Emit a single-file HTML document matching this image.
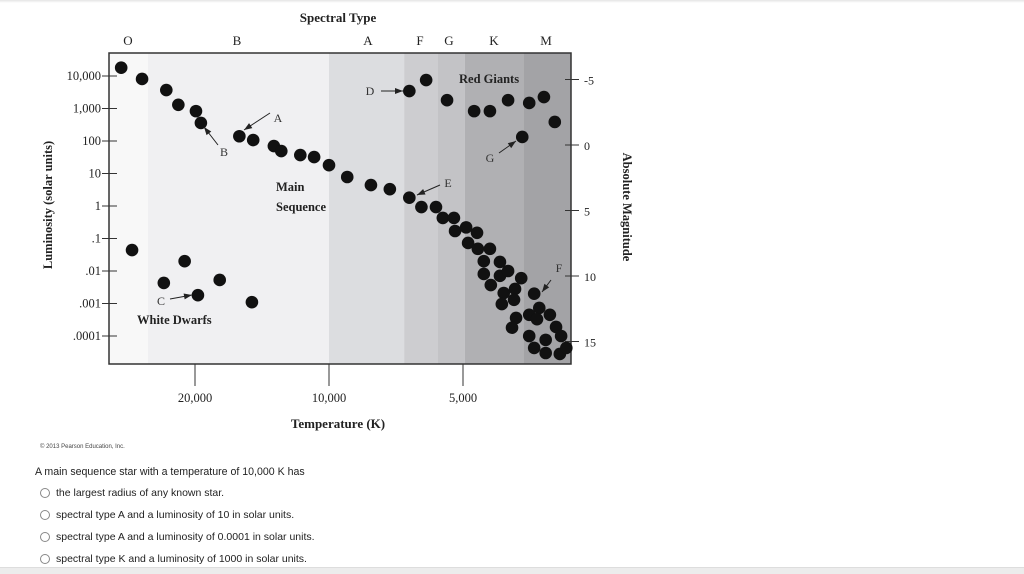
<!DOCTYPE html>
<html><head><meta charset="utf-8"><style>
body{margin:0;width:1024px;height:573px;overflow:hidden;background:#fff;font-family:"Liberation Sans",sans-serif;position:relative}
.q{position:absolute;left:35px;top:466px;font-size:10.6px;color:#222}
.opt{position:absolute;left:40px;font-size:10.5px;color:#222;display:flex;align-items:center}
.opt span.c{width:10px;height:10px;border:1px solid #888;border-radius:50%;margin-right:6px;box-sizing:border-box;background:#fff}
</style></head><body>
<div style="position:absolute;left:0;top:0;width:1024px;height:3px;background:linear-gradient(#e4e4e4,#fff)"></div>
<svg id="chart" width="1024" height="440" style="position:absolute;left:0;top:0" font-family="Liberation Serif, serif"></svg>
<div style="position:absolute;left:40px;top:444px;font-size:6px;color:#444">© 2013 Pearson Education, Inc.</div>
<div class="q">A main sequence star with a temperature of 10,000 K has</div>
<div class="opt" style="top:487px"><span class="c"></span>the largest radius of any known star.</div>
<div class="opt" style="top:509px"><span class="c"></span>spectral type A and a luminosity of 10 in solar units.</div>
<div class="opt" style="top:531px"><span class="c"></span>spectral type A and a luminosity of 0.0001 in solar units.</div>
<div class="opt" style="top:553px"><span class="c"></span>spectral type K and a luminosity of 1000 in solar units.</div>
<div style="position:absolute;left:0;top:567px;width:1024px;height:6px;background:#ececec;border-top:1px solid #ddd"></div>
<script>
const spectralTypes=["O","B","A","F","G","K","M"];
const bandEdgesK=[40000,25500,10000,6780,5690,4950,3660,2500];
const tempTicks=[20000,10000,5000];
const tempTickLabels=["20,000","10,000","5,000"];
const lumTicks=[4,3,2,1,0,-1,-2,-3,-4];
const lumTickLabels=["10,000","1,000","100","10","1",".1",".01",".001",".0001"];
const magTicks=[-5,0,5,10,15];
const msTemp=[29300,26300,23200,21800,19900,19400,15900,14800,13300,12800,11600,10800,10000,9100,8050,7300,6600,6200,5750,5550,5240,5210,4920,4650,4870,4630,4350,4490,4130,4490,4130,3960,4330,3700,4050,3820,3460,4090,3840,3370,3550,3410,3190,3800,3880,3090,3550,3010,3260,3460,3260,3030,2930];
const msLum=[18000,8100,3700,1300,830,360,140,107,70,49,37,32,18,7.8,4.4,3.3,1.8,0.93,0.93,0.43,0.43,0.17,0.22,0.15,0.073,0.048,0.048,0.02,0.019,0.0081,0.0071,0.01,0.0037,0.006,0.0021,0.0028,0.002,0.00096,0.0013,0.00073,0.00045,0.00033,0.00045,0.00036,0.00018,0.00019,0.0001,0.0001,0.000076,0.000043,0.00003,0.000028,0.000043];
const giantTemp=[6050,6600,5430,4720,4350,3960,3550,3290,3110,3680];
const giantLum=[7500,3450,1800,830,830,1800,1480,2250,385,133];
const wdTemp=[27700,23500,21100,19700,17600,14900];
const wdLum=[0.044,0.0043,0.02,0.0018,0.0053,0.0011];
const bandColors=["#f8f8f8","#f0f0f2","#dcdde0","#cdcdd0","#c3c3c6","#b0b0b3","#a3a3a6"];
const NS="http://www.w3.org/2000/svg",svg=document.getElementById('chart');
const L=109,R=571,T=53,B=364;
function x(t){return 329+(Math.log2(10000)-Math.log2(t))*134;}
function yL(lg){return 206-lg*32.5;}
function y(l){return yL(Math.log10(l));}
function yM(m){return 145+m*13.1;}
function mk(tag,a,txt){const e=document.createElementNS(NS,tag);for(const k in a)e.setAttribute(k,a[k]);if(txt!==undefined)e.textContent=txt;svg.appendChild(e);return e;}
for(let i=0;i<spectralTypes.length;i++){
 const x0=Math.max(L,x(bandEdgesK[i])),x1=Math.min(R,x(bandEdgesK[i+1]));
 const r=mk('rect',{x:x0,y:T,width:x1-x0,height:B-T,fill:bandColors[i]});
 
 
}
const fr=mk('rect',{x:L,y:T,width:R-L,height:B-T,fill:'none',stroke:'#333','stroke-width':1.5});


const stPos=[128,237,368,420,449,494,546];
spectralTypes.forEach((s,i)=>{const t=mk('text',{x:stPos[i],y:45,'font-size':13,'text-anchor':'middle',fill:'#222'},s);
 
 });
let t=mk('text',{x:338,y:22,'font-size':13,'font-weight':'bold','text-anchor':'middle',fill:'#222'},'Spectral Type');


lumTicks.forEach((v,i)=>{const yy=yL(v);mk('line',{x1:102,x2:117,y1:yy,y2:yy,stroke:'#333','stroke-width':1});
 const tt=mk('text',{x:101,y:yy+4,'font-size':12.5,'text-anchor':'end',fill:'#222'},lumTickLabels[i]);
 
 });
magTicks.forEach(v=>{const yy=yM(v);mk('line',{x1:565,x2:579,y1:yy,y2:yy,stroke:'#333','stroke-width':1});
 const tt=mk('text',{x:584,y:yy+5,'font-size':12,fill:'#222'},String(v));
 
 });
tempTicks.forEach((v,i)=>{const xx=x(v);mk('line',{x1:xx,x2:xx,y1:B,y2:386,stroke:'#333','stroke-width':1});
 const tt=mk('text',{x:xx,y:402,'font-size':12.5,'text-anchor':'middle',fill:'#222'},tempTickLabels[i]);
 
 });
t=mk('text',{x:338,y:428,'font-size':13,'font-weight':'bold','text-anchor':'middle',fill:'#222'},'Temperature (K)');


t=mk('text',{x:0,y:0,'font-size':12.5,'font-weight':'bold','text-anchor':'middle',fill:'#222',transform:'translate(52,205) rotate(-90)'},'Luminosity (solar units)');


t=mk('text',{x:0,y:0,'font-size':12.5,'font-weight':'bold','text-anchor':'middle',fill:'#222',transform:'translate(623,207) rotate(90)'},'Absolute Magnitude');


function dots(ts,ls,name){for(let i=0;i<ts.length;i++){const c=mk('circle',{cx:x(ts[i]),cy:y(ls[i]),r:6.3,fill:'#111'});
 
 }}
dots(msTemp,msLum,'main-sequence-star');dots(giantTemp,giantLum,'red-giant-star');dots(wdTemp,wdLum,'white-dwarf-star');
const labs=[["Main",276,191],["Sequence",276,211],["Red Giants",459,83],["White Dwarfs",137,324]];
labs.forEach(l=>{const e=mk('text',{x:l[1],y:l[2],'font-size':12.5,'font-weight':'bold',fill:'#222'},l[0]);
 
 });
const arrows=[["A",278,122,270,113,244,130],["B",224,156,218,145,204,127],["C",161,305,170,299,192,295],["D",370,95,381,91,403,91],["E",448,187,440,185,417,195],["F",559,272,551,280,542,292],["G",490,162,499,153,516,141]];
arrows.forEach(a=>{const e=mk('text',{x:a[1],y:a[2],'font-size':12,'text-anchor':'middle',fill:'#333'},a[0]);
 
 
 mk('line',{x1:a[3],y1:a[4],x2:a[5],y2:a[6],stroke:'#222','stroke-width':1});
 const ang=Math.atan2(a[6]-a[4],a[5]-a[3]),hx=a[5],hy=a[6],s=8,w=3;
 const bx=hx-s*Math.cos(ang),by=hy-s*Math.sin(ang);
 mk('polygon',{points:`${hx},${hy} ${bx+w*Math.sin(ang)},${by-w*Math.cos(ang)} ${bx-w*Math.sin(ang)},${by+w*Math.cos(ang)}`,fill:'#222'});});
</script>
</body></html>
